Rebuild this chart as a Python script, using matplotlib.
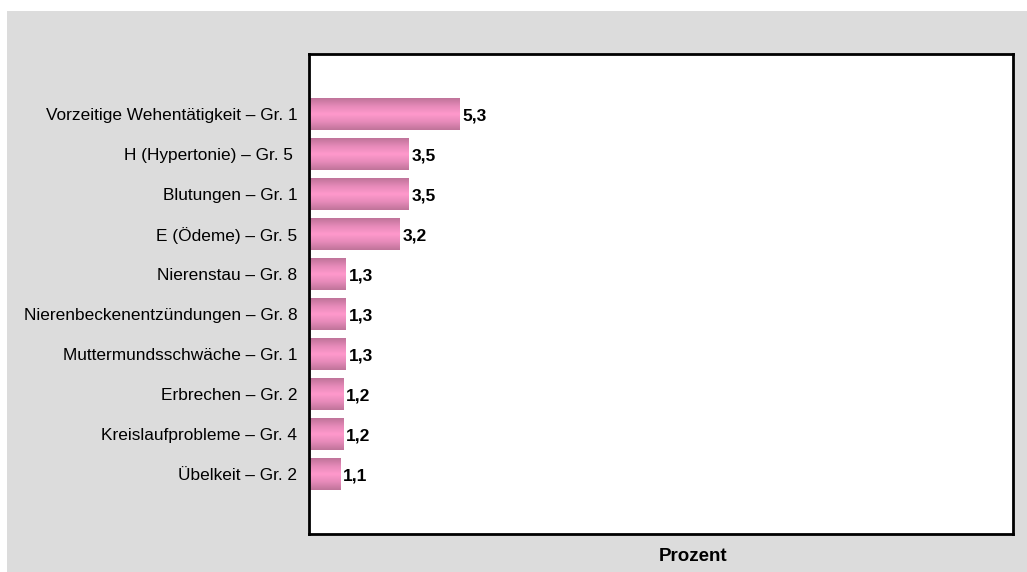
import numpy as np
import matplotlib
matplotlib.use("Agg")
import matplotlib.pyplot as plt
from matplotlib.patches import Rectangle
from matplotlib.colors import LinearSegmentedColormap

plt.rcParams['font.family'] = ['Liberation Sans', 'DejaVu Sans']

labels = [
    "Vorzeitige Wehentätigkeit – Gr. 1",
    "H (Hypertonie) – Gr. 5 ",
    "Blutungen – Gr. 1",
    "E (Ödeme) – Gr. 5",
    "Nierenstau – Gr. 8",
    "Nierenbeckenentzündungen – Gr. 8",
    "Muttermundsschwäche – Gr. 1",
    "Erbrechen – Gr. 2",
    "Kreislaufprobleme – Gr. 4",
    "Übelkeit – Gr. 2",
]
values = [5.3, 3.5, 3.5, 3.2, 1.3, 1.3, 1.3, 1.2, 1.2, 1.1]
x_label = "Prozent"

W, H = 1027, 572
fig = plt.figure(figsize=(W / 100, H / 100), dpi=100)
fig.patch.set_facecolor("white")

# grey panel behind the chart
fig.patches.append(Rectangle((7 / W, 0), 1 - 7 / W, 1 - 11 / H,
                             transform=fig.transFigure, facecolor="#dcdcdc",
                             edgecolor="none", zorder=-10))

ax = fig.add_axes([309 / W, (H - 534) / H, (1013 - 309) / W, (534 - 54) / H])
ax.set_facecolor("white")

y = np.arange(len(values))
bars = ax.barh(y, values, height=0.78, color="#f08cc0", edgecolor="none", zorder=2)

# vertical shading on each bar: darker rim, bright pink core
grad = LinearSegmentedColormap.from_list(
    "pinkbar", ["#c0749a", "#e68ab9", "#ff99cc", "#e68ab9", "#c0749a"])
shade = np.linspace(0, 1, 64).reshape(-1, 1)
for b in bars:
    x0, y0 = b.get_x(), b.get_y()
    ax.imshow(shade, cmap=grad, aspect="auto", zorder=3,
              extent=(x0, x0 + b.get_width(), y0 + b.get_height(), y0))

for yi, v in zip(y, values):
    ax.text(v + 0.1, yi + 0.04, f"{v:.1f}".replace(".", ","), va="center", ha="left",
            fontsize=12.5, fontweight="bold", color="black", zorder=4)

ax.set_xlim(0, 24.8)
ax.set_ylim(len(values) - 0.5 + 1, -1.5)
ax.set_yticks(y)
ax.set_yticklabels(labels, fontsize=12.4)
ax.tick_params(axis="y", length=0, pad=8.5)
ax.set_xticks([])
ax.set_xlabel(x_label, fontsize=13.5, fontweight="bold")
ax.xaxis.set_label_coords(0.545, -0.03)
for s in ax.spines.values():
    s.set_linewidth(2)
    s.set_color("black")
    s.set_zorder(5)

fig.savefig("out.png", dpi=100)
